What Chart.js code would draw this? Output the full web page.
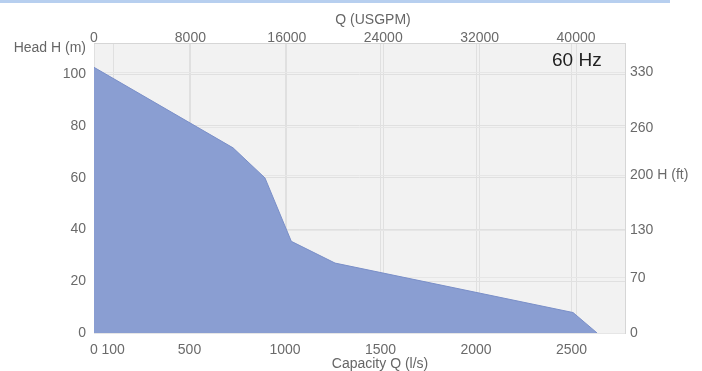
<!DOCTYPE html>
<html>
<head>
<meta charset="utf-8">
<script src="https://cdn.jsdelivr.net/npm/chart.js@4"></script>
<style>
  html, body { margin: 0; padding: 0; background: #fff; }
  #wrap { width: 702px; height: 371px; }
</style>
</head>
<body>
<div id="wrap"><canvas id="pumpChart"></canvas></div>
<script>
// Datos de la curva (caudal en l/s, altura en m)
const flowLs = [0, 728, 895, 1033, 1262, 2508, 2634];
const headM = [102.6, 71.5, 59.9, 35.4, 27.0, 7.9, 0];

// Marcas de los ejes
const flowTicks = [0, 100, 500, 1000, 1500, 2000, 2500];
const gpmTicks = [0, 8000, 16000, 24000, 32000, 40000];
const headTicks = [0, 20, 40, 60, 80, 100];
const feetTicks = [0, 70, 130, 200, 260, 330];

const Q_MAX = 2780;      // l/s
const H_MAX = 112;       // m
const LS_TO_GPM = 15.850;
const M_TO_FT = 3.28084;

Chart.defaults.font.family = '"Liberation Sans", Arial, sans-serif';
Chart.defaults.font.size = 14;
Chart.defaults.color = '#6a6a6a';

const gridColor = '#e0e0e0';
const plain = v => String(v);   // sin separador de miles

// Fondo, franja azul y textos sueltos
const decoPlugin = {
  id: 'deco',
  beforeDraw(chart) {
    const { ctx, chartArea: a } = chart;
    ctx.save();
    ctx.fillStyle = '#b7cfef';
    ctx.fillRect(0, 0, 670, 3);
    ctx.fillStyle = '#f2f2f2';
    ctx.fillRect(a.left, a.top, a.right - a.left, a.bottom - a.top);
    ctx.restore();
  },
  afterDraw(chart) {
    const { ctx } = chart;
    ctx.save();
    ctx.fillStyle = '#666';
    ctx.font = '14px "Liberation Sans", Arial, sans-serif';
    ctx.textBaseline = 'middle';
    ctx.textAlign = 'center';
    ctx.fillText('Q (USGPM)', 373, 20);
    ctx.fillText('Capacity Q (l/s)', 380, 364);
    ctx.textAlign = 'right';
    ctx.fillText('Head H (m)', 86, 48);
    ctx.fillStyle = '#222';
    ctx.font = '19px "Liberation Sans", Arial, sans-serif';
    ctx.textAlign = 'left';
    ctx.fillText('60 Hz', 552, 61);
    ctx.restore();
  }
};

const ctx = document.getElementById('pumpChart').getContext('2d');

const pumpChart = new Chart(ctx, {
  type: 'line',
  data: {
    datasets: [{
      data: flowLs.map((q, i) => ({ x: q, y: headM[i] })),
      backgroundColor: '#8a9ed2',
      borderColor: '#7a8fc8',
      borderWidth: 1,
      pointRadius: 0,
      tension: 0,
      fill: 'origin'
    }]
  },
  options: {
    responsive: true,
    maintainAspectRatio: false,
    animation: false,
    layout: { padding: 0 },
    plugins: {
      legend: { display: false },
      tooltip: { enabled: false }
    },
    scales: {
      x: {
        type: 'linear',
        position: 'bottom',
        min: 0,
        max: Q_MAX,
        afterBuildTicks: s => { s.ticks = flowTicks.map(v => ({ value: v })); },
        afterFit: s => { s.height = 38; },
        grid: { color: gridColor, drawTicks: false },
        border: { display: false },
        ticks: { padding: 9, maxRotation: 0, autoSkip: false, callback: plain }
      },
      xTop: {
        type: 'linear',
        position: 'top',
        min: 0,
        max: Q_MAX * LS_TO_GPM,
        afterBuildTicks: s => { s.ticks = gpmTicks.map(v => ({ value: v })); },
        afterFit: s => { s.height = 43; },
        grid: { color: gridColor, drawTicks: false },
        border: { display: true, color: '#d6d6d6' },
        ticks: { padding: -4, maxRotation: 0, autoSkip: false, callback: plain }
      },
      y: {
        position: 'left',
        min: 0,
        max: H_MAX,
        afterBuildTicks: s => { s.ticks = headTicks.map(v => ({ value: v })); },
        afterFit: s => { s.width = 94; },
        grid: { color: gridColor, drawTicks: false },
        border: { display: false },
        ticks: { padding: 8, callback: plain }
      },
      yRight: {
        position: 'right',
        min: 0,
        max: H_MAX * M_TO_FT,
        afterBuildTicks: s => { s.ticks = feetTicks.map(v => ({ value: v })); },
        afterFit: s => { s.width = 77; },
        grid: { color: '#e6e6e6', drawTicks: false },
        border: { display: true, color: '#d6d6d6' },
        ticks: {
          padding: 5,
          callback: v => v === 200 ? '200 H (ft)' : String(v)
        }
      }
    }
  },
  plugins: [decoPlugin]
});
</script>
</body>
</html>
